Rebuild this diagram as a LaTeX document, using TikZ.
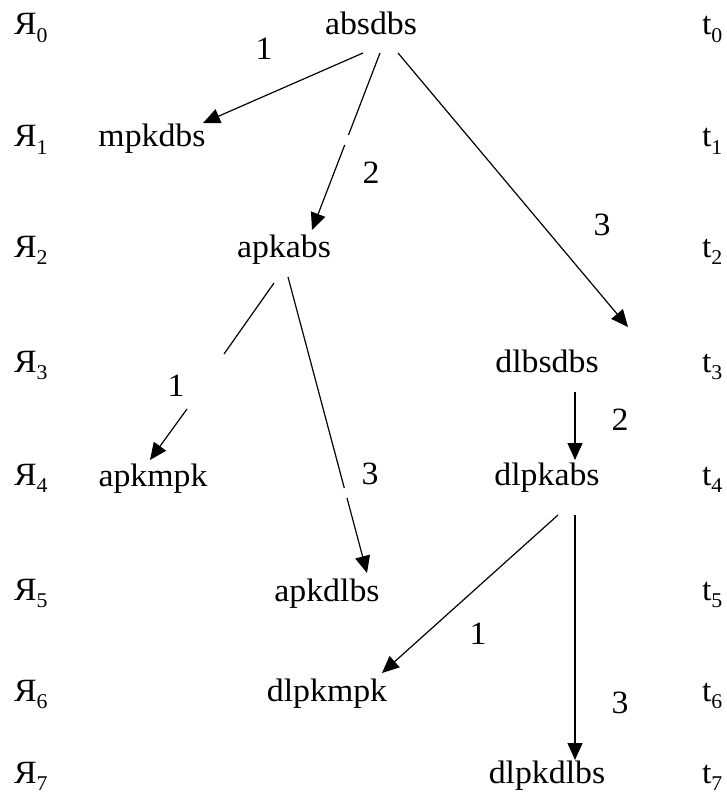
\documentclass[tikz,border=0pt]{standalone}
\usepackage{fontspec}
\setmainfont{Liberation Serif}[FakeStretch=1.04]
\usetikzlibrary{arrows.meta}
\newcommand{\mysub}[1]{\raisebox{-0.22em}{\fontsize{21}{21}\selectfont #1}}
\begin{document}
\begin{tikzpicture}[x=1pt,y=-1pt,
  every node/.style={inner sep=0pt,outer sep=0pt,font=\fontsize{32.5}{38}\selectfont},
  word/.style={anchor=base},
  side/.style={anchor=base west},
  lab/.style={anchor=center},
  conn/.style={line width=1.2pt},
  arr/.style={line width=1.2pt,-{Triangle[length=17pt,width=15pt]}}]
\useasboundingbox (0,0) rectangle (727,794);
% row labels
\foreach \i/\y in {0/35,1/147,2/257,3/372,4/485,5/600,6/701,7/783}{
  \node[side] (Y\i) at (14,\y) {Я\mysub{\i}};
  \node[side] (T\i) at (702,\y) {t\mysub{\i}};
}
% words
\node[word] (absdbs) at (371,35) {absdbs};
\node[word] (mpkdbs) at (152,147) {mpkdbs};
\node[word] (apkabs) at (284,257) {apkabs};
\node[word] (dlbsdbs) at (547,372) {dlbsdbs};
\node[word] (apkmpk) at (153,486) {apkmpk};
\node[word] (dlpkabs) at (547,485) {dlpkabs};
\node[word] (apkdlbs) at (327,601) {apkdlbs};
\node[word] (dlpkmpk) at (327,701) {dlpkmpk};
\node[word] (dlpkdlbs) at (547,783) {dlpkdlbs};
% connector end points
\coordinate (a1) at (363,53);  \coordinate (a2) at (203,123);
\coordinate (b1) at (380,53);  \coordinate (b2) at (348.5,135); \coordinate (b3) at (344.7,145); \coordinate (b4) at (312,230);
\coordinate (c1) at (398,53);  \coordinate (c2) at (628,327);
\coordinate (d1) at (274,283); \coordinate (d2) at (224,354); \coordinate (d3) at (187,409); \coordinate (d4) at (150,460);
\coordinate (e1) at (288,277); \coordinate (e2) at (344.3,488); \coordinate (e3) at (347,498); \coordinate (e4) at (367,573);
\coordinate (f1) at (575,392); \coordinate (f2) at (575,460);
\coordinate (g1) at (558,515); \coordinate (g2) at (382,673);
\coordinate (h1) at (575,515); \coordinate (h2) at (575,760);
% connectors
\draw[arr] (a1) -- (a2);
\draw[conn] (b1) -- (b2);
\draw[arr] (b3) -- (b4);
\draw[arr] (c1) -- (c2);
\draw[conn] (d1) -- (d2);
\draw[arr] (d3) -- (d4);
\draw[conn] (e1) -- (e2);
\draw[arr] (e3) -- (e4);
\draw[arr] (f1) -- (f2);
\draw[arr] (g1) -- (g2);
\draw[arr] (h1) -- (h2);
% labels
\node[lab] (l1) at (264,49) {1};
\node[lab] (l2) at (371,173) {2};
\node[lab] (l3) at (602,225) {3};
\node[lab] (l4) at (176,386) {1};
\node[lab] (l5) at (370,474) {3};
\node[lab] (l6) at (620,420) {2};
\node[lab] (l7) at (478,634) {1};
\node[lab] (l8) at (620,703) {3};
\end{tikzpicture}
\end{document}
